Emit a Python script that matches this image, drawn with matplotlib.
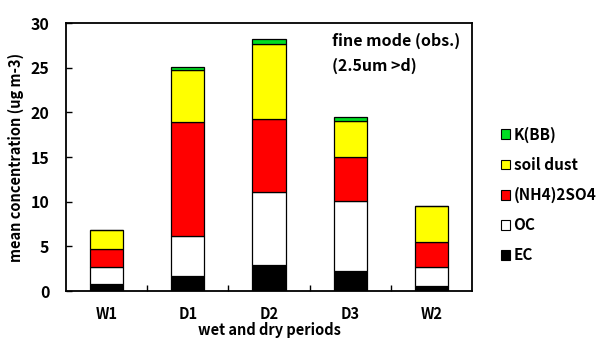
import matplotlib.pyplot as plt
from matplotlib.patches import Patch

# ------------------------------------------------------------
# Data
# ------------------------------------------------------------

periods = ["W1", "D1", "D2", "D3", "W2"]

ec = [0.82, 1.68, 2.87, 2.24, 0.60]
oc = [1.90, 4.44, 8.21, 7.80, 2.05]
nh4_so4 = [1.98, 12.78, 8.18, 4.96, 2.87]
soil_dust = [2.13, 5.80, 8.34, 4.07, 4.00]
k_bb = [0.05, 0.40, 0.65, 0.43, 0.05]

components = ["EC", "OC", "(NH4)2SO4", "soil dust", "K(BB)"]
colors = ["#000000", "#ffffff", "#ff0000", "#ffff00", "#00dd22"]

# ------------------------------------------------------------
# Plot
# ------------------------------------------------------------

plt.rcParams["font.family"] = ["Noto Sans CJK JP", "DejaVu Sans"]
plt.rcParams["font.weight"] = "bold"
plt.rcParams["axes.labelweight"] = "bold"
plt.rcParams["font.size"] = 9

fig = plt.figure(figsize=(5.98, 3.45), dpi=100)
ax = fig.add_axes([66 / 598, 1 - 291 / 345, 406 / 598, 268 / 345])

x = range(len(periods))
bottom = [0.0] * len(periods)
for vals, name, col in zip([ec, oc, nh4_so4, soil_dust, k_bb], components, colors):
    ax.bar(x, vals, width=0.41, bottom=bottom, color=col,
           edgecolor="black", linewidth=0.9, label=name)
    bottom = [b + v for b, v in zip(bottom, vals)]

ax.set_xlim(-0.5, 4.5)
ax.set_ylim(0, 30)
ax.set_yticks([0, 5, 10, 15, 20, 25, 30])
ax.set_xticks(list(x))
ax.set_xticklabels(periods)
ax.set_xticks([0.5, 1.5, 2.5, 3.5], minor=True)
ax.tick_params(axis="x", which="major", length=0, pad=11, labelsize=10.5)
ax.tick_params(axis="x", which="minor", direction="in", length=4, width=1)
ax.tick_params(axis="y", direction="in", length=4, width=1, labelsize=11.5, pad=12)

for s in ax.spines.values():
    s.set_linewidth(1.3)

ax.set_xlabel("wet and dry periods", fontsize=10.5, labelpad=0)
ax.set_ylabel("mean concentration (ug m-3)", fontsize=10.5, labelpad=5)

ax.text(0.655, 0.965, "fine mode (obs.)", transform=ax.transAxes,
        fontsize=11.5, va="top", ha="left")
ax.text(0.655, 0.87, "(2.5um >d)", transform=ax.transAxes,
        fontsize=11.5, va="top", ha="left")

handles = [Patch(facecolor=c, edgecolor="black", linewidth=0.8, label=n)
           for n, c in zip(components, colors)]
fig.legend(handles=handles[::-1], loc="upper left",
           bbox_to_anchor=(493 / 598, 1 - 119 / 345), frameon=False,
           handlelength=0.6, handleheight=0.6, handletextpad=0.25,
           labelspacing=0.92, fontsize=11, borderpad=0)

fig.savefig("out.png", dpi=100)
